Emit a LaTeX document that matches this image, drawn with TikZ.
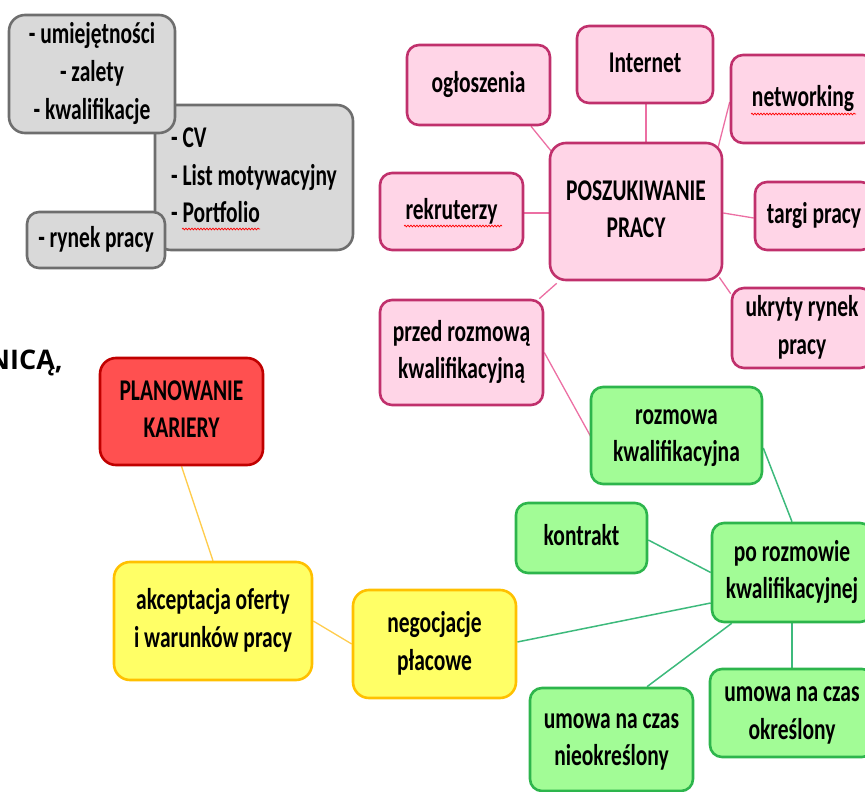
\documentclass[tikz,border=0pt]{standalone}
\usepackage{fontspec}
\usepackage{graphicx}
\setmainfont{Carlito}
\newfontfamily\osbfont{Open Sans}
\usetikzlibrary{calc,backgrounds,decorations.pathmorphing}
\definecolor{grayfill}{HTML}{D9D9D9}
\definecolor{grayline}{HTML}{6E6E6E}
\definecolor{pinkfill}{HTML}{FFD5E7}
\definecolor{pinkline}{HTML}{C0306C}
\definecolor{pinkconn}{HTML}{EC6FA3}
\definecolor{redfill}{HTML}{FF5050}
\definecolor{redline}{HTML}{C00000}
\definecolor{yelfill}{HTML}{FFFF66}
\definecolor{yelline}{HTML}{FFC000}
\definecolor{yelconn}{HTML}{FFCC4D}
\definecolor{grnfill}{HTML}{A2FC96}
\definecolor{grnline}{HTML}{2DB54C}
\definecolor{grnconn}{HTML}{3DBA7C}
\newcommand{\stx}[2][c]{\scalebox{1}[1.4]{\begin{tabular}{@{}#1@{}}#2\end{tabular}}}
\tikzset{
  box/.style={rounded corners=12pt, line width=2.6pt, inner sep=0pt, align=center,
    font=\fontsize{21.5}{27}\selectfont\bfseries},
  graybox/.style={box, draw=grayline, fill=grayfill},
  pinkbox/.style={box, draw=pinkline, fill=pinkfill},
  redbox/.style={box, draw=redline, fill=redfill, rounded corners=16pt},
  yelbox/.style={box, draw=yelline, fill=yelfill, rounded corners=16pt},
  grnbox/.style={box, draw=grnline, fill=grnfill},
  pconn/.style={draw=pinkconn, line width=1.3pt},
  gconn/.style={draw=grnconn, line width=1.5pt},
  yconn/.style={draw=yelconn, line width=1.3pt},
  spell/.style={draw=red, line width=0.7pt, decorate,
    decoration={snake, amplitude=0.9pt, segment length=3pt}},
  wh/.style 2 args={minimum width=#1, minimum height=#2}
}
\begin{document}
\begin{tikzpicture}[x=1pt, y=-1pt]
\useasboundingbox (0,0) rectangle (865,792);
\clip (0,0) rectangle (865,792);

% gray cluster
\node[graybox, wh={198pt}{145pt}, rounded corners=16pt] (cv) at (254,177.5)
  {\stx[l]{- CV\\- List motywacyjny\\- Portfolio}};
\node[graybox, wh={166pt}{118pt}, rounded corners=16pt] (umi) at (92,74)
  {\stx{- umiejętności\\- zalety\\- kwalifikacje}};
\node[graybox, wh={138pt}{56pt}] (rynek) at (96,240) {\stx{- rynek pracy}};

% leftover title fragment
\node[anchor=base east, inner sep=0pt, font=\osbfont\bfseries\fontsize{27}{32}\selectfont] (frag) at (63,369) {NICĄ,};

% pink cluster
\node[pinkbox, wh={172pt}{137pt}, rounded corners=16pt] (posz) at (636,211.5) {\stx{POSZUKIWANIE\\PRACY}};
\node[pinkbox, wh={143pt}{80pt}] (ogl) at (478.5,85) {\stx{ogłoszenia}};
\node[pinkbox, wh={136pt}{77pt}] (inet) at (645,64.5) {\stx{Internet}};
\node[pinkbox, wh={144pt}{88pt}] (netw) at (803,99) {\stx{networking}};
\node[pinkbox, wh={143pt}{77pt}] (rekr) at (451.5,211.5) {\stx{rekruterzy}};
\node[pinkbox, wh={118pt}{68pt}] (targi) at (814,216) {\stx{targi pracy}};
\node[pinkbox, wh={140pt}{80pt}] (ukr) at (802,328) {\stx{ukryty rynek\\pracy}};
\node[pinkbox, wh={163pt}{105pt}] (przed) at (461.5,352.5) {\stx{przed rozmową\\kwalifikacyjną}};

% red
\node[redbox, wh={163pt}{107pt}] (plan) at (181.5,411.5) {\stx{PLANOWANIE\\KARIERY}};

% yellow
\node[yelbox, wh={198pt}{118pt}] (akc) at (213,621) {\stx{akceptacja oferty\\i warunków pracy}};
\node[yelbox, wh={163pt}{108pt}] (neg) at (434.5,644) {\stx{negocjacje\\płacowe}};

% green
\node[grnbox, wh={171pt}{97pt}] (rozm) at (676.5,435.5) {\stx{rozmowa\\kwalifikacyjna}};
\node[grnbox, wh={131pt}{70pt}] (kontr) at (581.5,538) {\stx{kontrakt}};
\node[grnbox, wh={160pt}{99pt}] (po) at (792,572.5) {\stx{po rozmowie\\kwalifikacyjnej}};
\node[grnbox, wh={163pt}{103pt}] (nieokr) at (611.5,739.5) {\stx{umowa na czas\\nieokreślony}};
\node[grnbox, wh={164pt}{88pt}] (okr) at (792,713) {\stx{umowa na czas\\określony}};

\begin{scope}[on background layer]
\draw[pconn] ($(ogl.south)+(52.5,0)$) -- ($(posz.north west)+(3,10)$);
\draw[pconn] ($(inet.south)+(1,0)$) -- ($(posz.north)+(10,0)$);
\draw[pconn] ($(netw.west)+(0,3)$) -- ($(posz.north east)+(-5,5)$);
\draw[pconn] ($(rekr.east)+(0,1.5)$) -- ($(posz.west)+(0,1.5)$);
\draw[pconn] ($(targi.west)+(0,2)$) -- ($(posz.east)+(0,1.5)$);
\draw[pconn] ($(ukr.north west)+(0,7)$) -- ($(posz.south east)+(-4,-4)$);
\draw[pconn] ($(przed.north east)+(-5,0)$) -- ($(posz.south west)+(8,2)$);
\draw[pconn] (przed.east) -- ($(rozm.west)+(1,1)$);
\draw[gconn] ($(rozm.east)+(0,12.5)$) -- (po.north);
\draw[gconn] ($(kontr.east)+(0,2)$) -- (po.west);
\draw[gconn] ($(neg.east)+(0,-2)$) -- ($(po.west)+(0,30.5)$);
\draw[gconn] ($(po.south west)+(21,0)$) -- ($(nieokr.north)+(35.5,0)$);
\draw[gconn] (po.south) -- (okr.north);
\draw[yconn] (plan.south) -- (akc.north);
\draw[yconn] (akc.east) -- (neg.west);
\end{scope}

% spell-check underlines
\path[spell] (182,229) -- (260,229);
\path[spell] (751,114) -- (856,114);
\path[spell] (404,226) -- (502,226);
\end{tikzpicture}
\end{document}
